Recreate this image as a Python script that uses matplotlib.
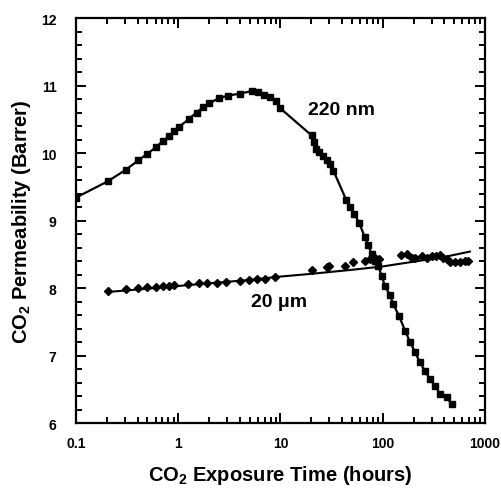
import matplotlib
matplotlib.use("Agg")
import matplotlib.pyplot as plt
from matplotlib.ticker import LogLocator, FixedLocator, FixedFormatter, MultipleLocator, NullFormatter

plt.rcParams["font.family"] = ["Liberation Sans", "DejaVu Sans"]
plt.rcParams["font.weight"] = "bold"
plt.rcParams["mathtext.fontset"] = "custom"
plt.rcParams["mathtext.rm"] = "Liberation Sans:bold"
plt.rcParams["mathtext.bf"] = "Liberation Sans:bold"
plt.rcParams["mathtext.default"] = "bf"

# 220 nm film: permeability vs. exposure time
t_220 = [0.1, 0.204, 0.306, 0.406, 0.50, 0.61, 0.71, 0.81, 0.91, 1.01, 1.26, 1.51,
         1.76, 2.01, 2.50, 3.05, 4.02, 5.3, 6.07, 6.9, 7.9, 8.97, 10.0, 20.2, 21.3,
         22.2, 24.0, 26.2, 28.3, 30.5, 32.9, 43.8, 47.9, 52.4, 58.6, 67, 72.3, 78,
         84, 90.5, 97.7, 105, 118, 127, 145, 165, 185, 207, 231, 259, 290, 324, 363,
         422, 472]
p_220 = [9.34, 9.58, 9.75, 9.89, 9.99, 10.09, 10.18, 10.25, 10.32, 10.38, 10.50, 10.60,
         10.68, 10.74, 10.81, 10.85, 10.88, 10.92, 10.90, 10.86, 10.83, 10.77, 10.66, 10.26, 10.17,
         10.06, 10.01, 9.96, 9.90, 9.83, 9.74, 9.31, 9.20, 9.10, 8.97, 8.75, 8.63, 8.50,
         8.40, 8.32, 8.18, 8.03, 7.89, 7.76, 7.58, 7.37, 7.20, 7.05, 6.90, 6.77, 6.65, 6.55, 6.43,
         6.38, 6.28]

# 20 um film: permeability vs. exposure time
t_20 = [0.204, 0.306, 0.406, 0.50, 0.61, 0.71, 0.81, 0.91, 1.24, 1.61, 1.90, 2.41, 2.91,
        4.02, 4.95, 5.93, 7.05, 8.83, 20.2, 28.3, 30, 42.8, 51.6, 67, 75, 84, 92.5, 150,
        171, 193, 207, 240, 269, 302, 332, 363, 392, 422, 455, 509, 570, 637, 687]
p_20 = [7.96, 7.98, 8.00, 8.01, 8.02, 8.03, 8.03, 8.04, 8.06, 8.07, 8.07, 8.08, 8.09,
        8.11, 8.12, 8.13, 8.14, 8.16, 8.27, 8.31, 8.32, 8.33, 8.39, 8.40, 8.43, 8.45, 8.43, 8.49,
        8.50, 8.45, 8.45, 8.47, 8.45, 8.47, 8.48, 8.49, 8.45, 8.43, 8.38, 8.39, 8.39, 8.40, 8.40]

# trend line for the 20 um film
t_20_fit = [0.2, 0.5, 1, 2, 5, 10, 20, 50, 100, 200, 400, 713]
p_20_fit = [7.94, 7.99, 8.03, 8.07, 8.12, 8.17, 8.21, 8.27, 8.32, 8.39, 8.46, 8.54]

x_ticks = [0.1, 1, 10, 100, 1000]
x_tick_labels = ["0.1", "1", "10", "100", "1000"]
y_ticks = [6, 7, 8, 9, 10, 11, 12]

fig = plt.figure(figsize=(5.02, 4.89), dpi=100)
ax = fig.add_axes([0.1514, 0.1329, 0.8147, 0.8282])

ax.plot(t_220, p_220, "-", color="black", lw=1.6, zorder=2)
ax.plot(t_220, p_220, "s", color="black", ms=4.8, zorder=3)
ax.plot(t_20_fit, p_20_fit, "-", color="black", lw=1.5, zorder=2)
ax.plot(t_20, p_20, "D", color="black", ms=3.8, zorder=3)

ax.set_xscale("log")
ax.set_xlim(0.1, 1000)
ax.set_ylim(6, 12)

ax.xaxis.set_major_locator(FixedLocator(x_ticks))
ax.xaxis.set_major_formatter(FixedFormatter(x_tick_labels))
ax.xaxis.set_minor_locator(LogLocator(base=10, subs=range(2, 10), numticks=20))
ax.xaxis.set_minor_formatter(NullFormatter())
ax.yaxis.set_major_locator(FixedLocator(y_ticks))
ax.yaxis.set_minor_locator(MultipleLocator(0.2))

ax.tick_params(which="both", direction="in", top=True, right=True, width=1.4,
               labelsize=10, colors="black")
ax.tick_params(which="major", length=7)
ax.tick_params(which="minor", length=4)
ax.tick_params(axis="y", which="major", pad=14)
ax.tick_params(axis="x", which="major", pad=9)
for lab in ax.get_xticklabels() + ax.get_yticklabels():
    lab.set_fontweight("bold")

for s in ax.spines.values():
    s.set_linewidth(1.6)

ax.set_xlabel("CO$_2$ Exposure Time (hours)", fontsize=14.5, fontweight="bold", labelpad=10)
ax.set_ylabel("CO$_2$ Permeability (Barrer)", fontsize=14.5, fontweight="bold", labelpad=6)

ax.text(18.6, 10.65, "220 nm", fontsize=14, fontweight="bold", ha="left", va="center")
ax.text(5.1, 7.80, "20 μm", fontsize=14, fontweight="bold", ha="left", va="center")

fig.savefig("out.png", dpi=100)
